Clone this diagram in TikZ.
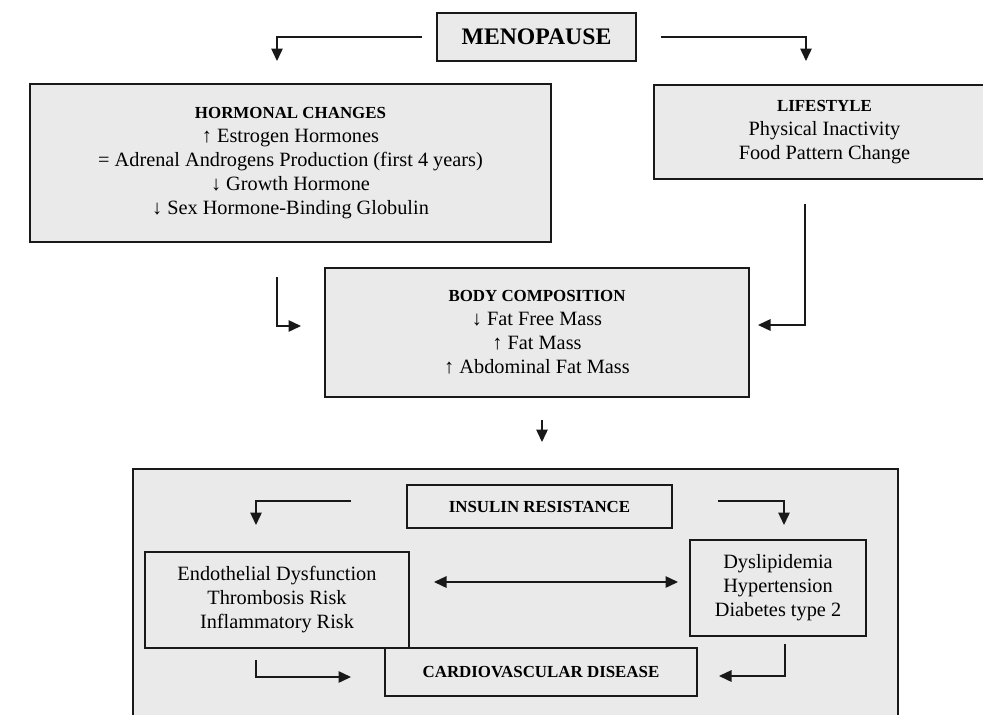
\documentclass[tikz,border=0pt]{standalone}
\usepackage{fontspec}
\setmainfont{Liberation Serif}
\usetikzlibrary{arrows.meta}
\definecolor{boxfill}{RGB}{234,234,234}
\definecolor{edge}{RGB}{25,25,25}
\newcommand{\ttlfont}{\bfseries\fontsize{16.9}{20}\selectfont}
\newcommand{\bigttl}{\bfseries\fontsize{23.7}{28}\selectfont}
\begin{document}
\begin{tikzpicture}[x=1pt,y=-1pt,
  box/.style={draw=edge, fill=boxfill, line width=1.4pt, inner sep=0pt, align=center,
    font=\fontsize{20.3}{24}\selectfont},
  conn/.style={draw=edge, line width=1.4pt, -{Triangle[length=12.5pt,width=11.5pt]}},
  dconn/.style={draw=edge, line width=1.4pt, {Triangle[length=12.5pt,width=11.5pt]}-{Triangle[length=12.5pt,width=11.5pt]}},
]
\useasboundingbox (0,0) rectangle (983,715);

% boxes
\node[box, minimum width=199pt, minimum height=48pt] (meno) at (536.5,37) {\bigttl MENOPAUSE};
\node[box, minimum width=521pt, minimum height=158pt] (horm) at (290.5,163)
  {{\ttlfont HORMONAL CHANGES}\\ ↑ Estrogen Hormones\\ = Adrenal Androgens Production (first 4 years)\\ ↓ Growth Hormone\\ ↓ Sex Hormone-Binding Globulin};
\node[box, minimum width=341pt, minimum height=94pt] (life) at (824.5,132)
  {{\ttlfont LIFESTYLE}\\ Physical Inactivity\\ Food Pattern Change};
\node[box, minimum width=424pt, minimum height=129pt] (body) at (537,332.5)
  {{\ttlfont BODY COMPOSITION}\\ ↓ Fat Free Mass\\ ↑ Fat Mass\\ ↑ Abdominal Fat Mass};
\node[box, minimum width=765pt, minimum height=260pt] (risk) at (515.5,599) {};
\node[box, minimum width=265pt, minimum height=43pt] (ins) at (539.5,506.5) {\ttlfont INSULIN RESISTANCE};
\node[box, minimum width=264pt, minimum height=96pt] (endo) at (277,600)
  {Endothelial Dysfunction\\ Thrombosis Risk\\ Inflammatory Risk};
\node[box, minimum width=176pt, minimum height=96pt] (dys) at (778,588)
  {Dyslipidemia\\ Hypertension\\ Diabetes type 2};
\node[box, minimum width=312pt, minimum height=48pt] (cvd) at (541,672) {\ttlfont CARDIOVASCULAR DISEASE};

% connector end points
\coordinate (mL) at (422,37);
\coordinate (hT) at (277,61);
\coordinate (mR) at (661,37);
\coordinate (lT) at (806,61);
\coordinate (hB) at (277,277);
\coordinate (bL) at (301,326);
\coordinate (lB) at (805,204);
\coordinate (bR) at (758,325);
\coordinate (bB) at (542,420);
\coordinate (rT) at (542,442);
\coordinate (iL) at (351,501);
\coordinate (eT) at (256,525);
\coordinate (iR) at (718,501);
\coordinate (dT) at (784,525);
\coordinate (eR) at (434,582);
\coordinate (dL) at (678,582);
\coordinate (eB) at (256,660);
\coordinate (cL) at (351,677);
\coordinate (dB) at (785,644);
\coordinate (cR) at (719,676);

% connectors
\draw[conn] (mL) -| (hT);
\draw[conn] (mR) -| (lT);
\draw[conn] (hB) |- (bL);
\draw[conn] (lB) |- (bR);
\draw[conn] (bB) -- (rT);
\draw[conn] (iL) -| (eT);
\draw[conn] (iR) -| (dT);
\draw[dconn] (eR) -- (dL);
\draw[conn] (eB) |- (cL);
\draw[conn] (dB) |- (cR);
\end{tikzpicture}
\end{document}
